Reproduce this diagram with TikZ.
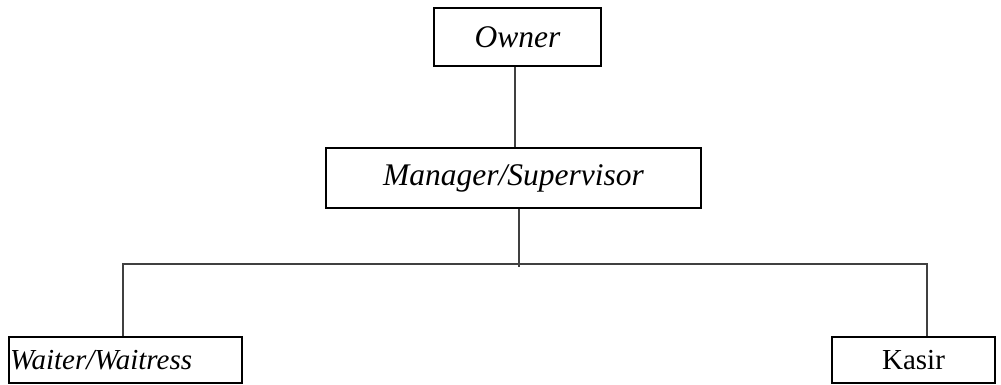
\documentclass[tikz,border=0pt]{standalone}
\usepackage{fontspec}
\setmainfont{Liberation Serif}
\usetikzlibrary{positioning,calc}
\tikzset{
  post/.style={draw,line width=1.8pt,inner sep=1pt,font=\fontsize{31.5}{34}\selectfont\itshape},
  staff/.style={post,font=\fontsize{29}{32}\selectfont\itshape},
  link/.style={line width=1.2pt,black!75}
}

\begin{document}
\begin{tikzpicture}[x=1pt,y=-1pt]
  \useasboundingbox (0,0) rectangle (1001,385);
  \node[post,minimum width=167pt,minimum height=58pt] (owner) at (517.5,37) {Owner};
  \node[post,minimum width=375pt,minimum height=60pt] (mgr) at (513.5,178) {Manager/Supervisor};
  \node[staff,minimum height=46pt,text width=231pt,align=left] (waiter) at (125.5,360) {Waiter/Waitress};
  \node[staff,font=\fontsize{29}{32}\selectfont,minimum width=163pt,minimum height=46pt] (kasir) at (913.5,360) {Kasir};
  % garis hubung
  \coordinate (busL) at (122,264);
  \coordinate (busR) at (928,264);
  \draw[link] (owner.south -| 515,0) -- (mgr.north -| 515,0);
  \draw[link] (mgr.south -| 519,0) -- (519,267);
  \draw[link] (busL) -- (busR);
  \draw[link] (busL -| 123,0) -- (waiter.north -| 123,0);
  \draw[link] (busR -| 927,0) -- (kasir.north -| 927,0);
\end{tikzpicture}
\end{document}
